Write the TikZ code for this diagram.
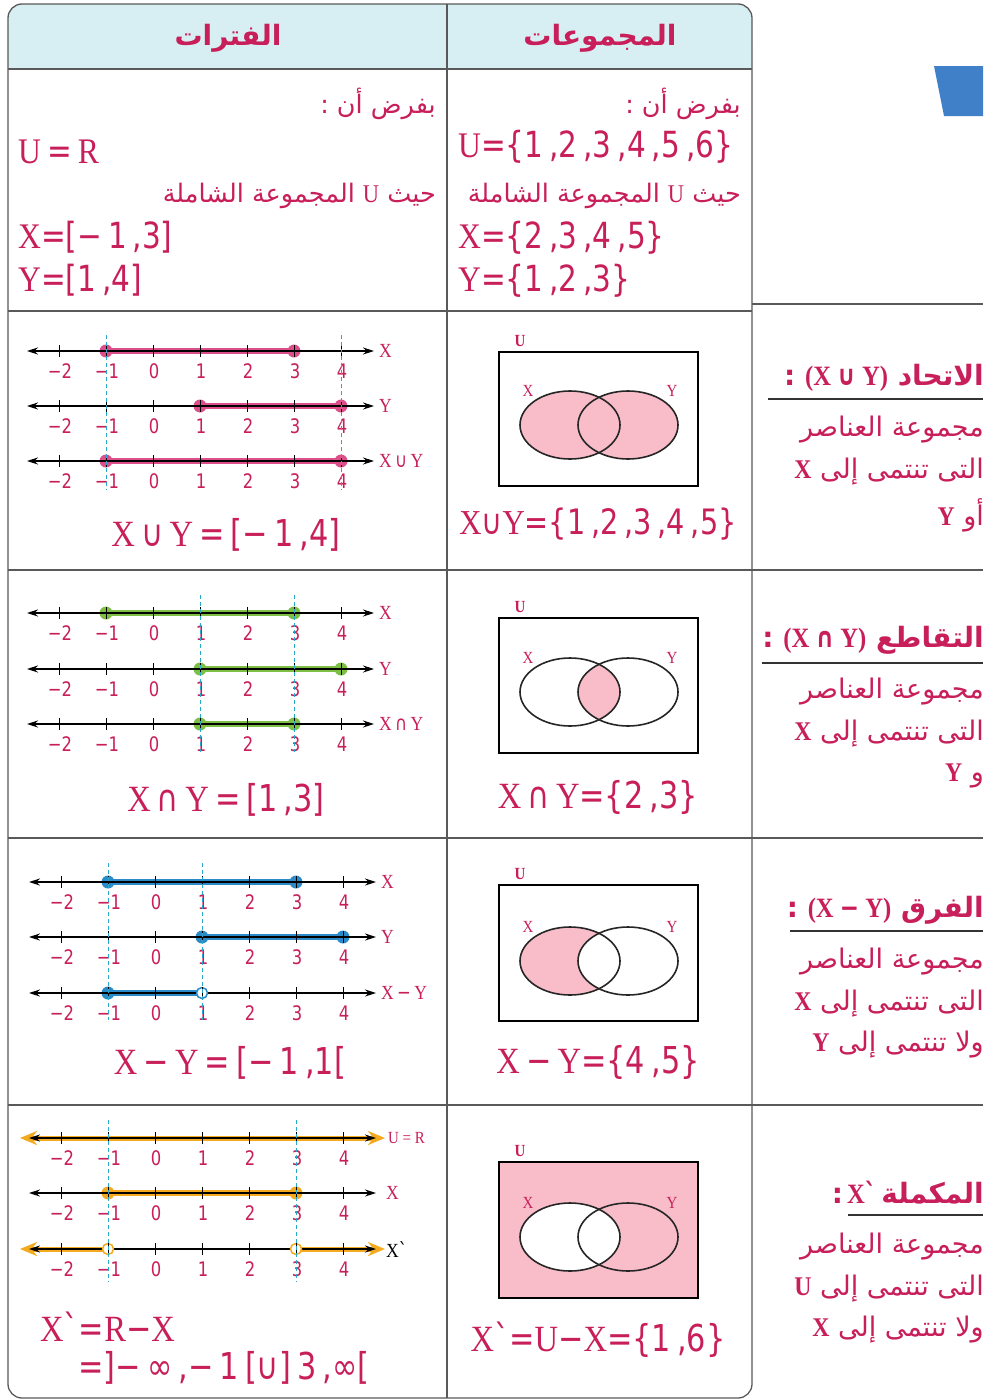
\documentclass[tikz,border=0pt]{standalone}
\usepackage{fontspec}
\usetikzlibrary{arrows.meta}
\TeXXeTstate=1
\newfontfamily\ar[Script=Arabic]{DejaVu Sans}
\newfontfamily\fnum[FakeStretch=0.82]{DejaVu Sans}
\newfontfamily\fser[FakeStretch=0.88]{Liberation Serif}
\newcommand\Lx[1]{{\fser #1}}
\newcommand\Lb[1]{{\fser\bfseries #1}}
\newcommand\gr{{\fnum\char"02CB}}
\definecolor{crim}{HTML}{C81E5A}
\definecolor{headfill}{HTML}{D7EEF3}
\definecolor{pinkhl}{HTML}{DD4F8A}
\definecolor{greenhl}{HTML}{7DBE45}
\definecolor{bluehl}{HTML}{2A8BC8}
\definecolor{orangehl}{HTML}{F3AA1E}
\definecolor{cyandash}{HTML}{2AA8CC}
\definecolor{vennpink}{HTML}{F9BDCA}
\definecolor{tileblue}{HTML}{3F80C8}
\tikzset{
  tbl/.style={draw=black!65, line width=1.3pt},
  axisst/.style={line width=1.2pt, {Stealth[length=11pt,width=7pt]}-{Stealth[length=11pt,width=7pt]}},
  tickst/.style={line width=1pt},
  numst/.style={text=crim, font=\fnum\fontsize{20}{20}\selectfont, inner sep=0pt},
  lblst/.style={text=crim, font=\fser\fontsize{20}{20}\selectfont, inner sep=0pt, anchor=west},
  band/.style={line width=6pt, draw=#1},
  dot/.style={fill=#1},
  ring/.style={draw=#1, fill=white, line width=1.5pt},
  guide/.style={draw=cyandash, line width=0.9pt, dash pattern=on 4pt off 3pt},
  fm/.style={text=crim, font=\fnum\fontsize{37}{37}\selectfont, inner sep=0pt},
  fmbig/.style={text=crim, font=\fnum\fontsize{36}{36}\selectfont, inner sep=0pt, anchor=west},
  artxt/.style={text=crim, font=\ar\fontsize{27}{27}\selectfont, inner sep=0pt, anchor=east},
  arone/.style={text=crim, font=\ar\fontsize{25.5}{25.5}\selectfont, inner sep=0pt, anchor=east},
  arhead/.style={text=crim, font=\ar\bfseries\fontsize{28}{28}\selectfont, inner sep=0pt, anchor=east},
  headtxt/.style={text=crim, font=\ar\bfseries\fontsize{28}{28}\selectfont, inner sep=0pt},
  vbox/.style={draw=black, line width=1.8pt},
  vell/.style={draw=black!85, line width=1.6pt},
  vlbl/.style={text=crim, font=\fser\fontsize{17}{17}\selectfont, inner sep=0pt},
  uline/.style={draw=black!80, line width=1.3pt},
}
\newcommand\drawaxis[3]{% #1 = y, #2 = x of 0, #3 = name prefix
  \draw[axisst] (#2-126,#1) -- (#2+221,#1);
  \foreach \k/\t in {-2/{−2},-1/{−1},0/{0},1/{1},2/{2},3/{3},4/{4}}{
    \draw[tickst] (\k*47+#2,#1-6) -- (\k*47+#2,#1+6);
    \node[numst] (#3\k) at (\k*47+#2+1,#1+20) {\t};
  }}
\newcommand\vennframe[4]{% top, bottom, ellipse cy, name
  \draw[vbox] (499,#1) rectangle (698,#2);
  \draw[vell] (570,#3) ellipse[x radius=50pt,y radius=34pt];
  \draw[vell] (628,#3) ellipse[x radius=50pt,y radius=34pt];
  \node[vlbl, font=\fser\bfseries\fontsize{17}{17}\selectfont] (#4U) at (520,#1-11) {U};
  \node[vlbl] (#4X) at (528,#3-34) {X};
  \node[vlbl] (#4Y) at (672,#3-34) {Y};
}
\begin{document}
\begin{tikzpicture}[x=1pt,y=-1pt]
\useasboundingbox (0,0) rectangle (983,1400);
\fill[white] (0,0) rectangle (983,1400);
% blue tile
\fill[tileblue] (934,66) -- (983,66) -- (983,116) -- (944,116) -- cycle;
% table
\fill[headfill, rounded corners=14pt] (8,4) rectangle (752,69);
\fill[headfill] (8,40) rectangle (752,69);
\draw[tbl, rounded corners=14pt] (8,4) rectangle (752,1398);
\draw[tbl] (8,69) -- (752,69);
\draw[tbl] (447,4) -- (447,1398);
\draw[tbl] (8,311) -- (752,311);
\draw[tbl] (752,304) -- (983,304);
\foreach \yy in {570,838,1105} \draw[tbl] (8,\yy) -- (983,\yy);
% header
\node[headtxt] (hI) at (228,38) {\beginR الفترات\endR};
\node[headtxt] (hS) at (600,38) {\beginR المجموعات\endR};
% row 1
\node[arone] (a1) at (436,104) {\beginR بفرض أن :\endR};
\node[arone] (a2) at (741,104) {\beginR بفرض أن :\endR};
\node[arone] (a3) at (436,196) {\beginR حيث \Lx{U} المجموعة الشاملة\endR};
\node[arone] (a4) at (741,196) {\beginR حيث \Lx{U} المجموعة الشاملة\endR};
\node[fmbig] (f1) at (18,152) {\Lx{U}\,=\,\Lx{R}};
\node[fmbig] (f2) at (18,237) {\Lx{X}=[−\,1\,,3]};
\node[fmbig] (f3) at (18,280) {\Lx{Y}=[1\,,4]};
\node[fmbig] (f4) at (458,147) {\Lx{U}=\{1\,,2\,,3\,,4\,,5\,,6\}};
\node[fmbig] (f5) at (458,238) {\Lx{X}=\{2\,,3\,,4\,,5\}};
\node[fmbig] (f6) at (458,281) {\Lx{Y}=\{1\,,2\,,3\}};
% ---------- row 2 : union
\draw[band=pinkhl] (106,351) -- (294,351);
\draw[band=pinkhl] (200,406) -- (341,406);
\draw[band=pinkhl] (106,461) -- (341,461);
\fill[dot=pinkhl] (106,351) circle[radius=6.5pt] (294,351) circle[radius=6.5pt]
  (200,406) circle[radius=6.5pt] (341,406) circle[radius=6.5pt]
  (106,461) circle[radius=6.5pt] (341,461) circle[radius=6.5pt];
\drawaxis{351}{153}{ua}
\drawaxis{406}{153}{ub}
\drawaxis{461}{153}{uc}
\draw[guide] (106,335) -- (106,490);
\draw[guide] (341,335) -- (341,490);
\node[lblst] (l2a) at (379,351) {X};
\node[lblst] (l2b) at (379,406) {Y};
\node[lblst] (l2c) at (379,461) {X\,{\fnum∪}\,Y};
\node[fm] (F2) at (226,535) {\Lx{X}\,∪\,\Lx{Y}\,=\,[−\,1\,,4]};
\fill[vennpink] (570,425) ellipse[x radius=50pt,y radius=34pt];
\fill[vennpink] (628,425) ellipse[x radius=50pt,y radius=34pt];
\vennframe{352}{486}{425}{v2}
\node[fm, font=\fnum\fontsize{35}{35}\selectfont] (G2) at (598,524) {\Lx{X}∪\Lx{Y}=\{1\,,2\,,3\,,4\,,5\}};
\node[arhead] (r2h) at (984,378) {\beginR الاتحاد \beginL\Lb{(X }{\fnum ∪}\Lb{ Y)}\endL{} :\endR};
\draw[uline] (768,399) -- (983,399);
\node[artxt] (r2a) at (984,430) {\beginR مجموعة العناصر\endR};
\node[artxt] (r2b) at (984,472) {\beginR التى تنتمى إلى \Lb{X}\endR};
\node[artxt] (r2c) at (984,515) {\beginR أو \Lb{Y}\endR};
% ---------- row 3 : intersection
\draw[band=greenhl] (106,613) -- (294,613);
\draw[band=greenhl] (200,669) -- (341,669);
\draw[band=greenhl] (200,724) -- (294,724);
\fill[dot=greenhl] (106,613) circle[radius=6.5pt] (294,613) circle[radius=6.5pt]
  (200,669) circle[radius=6.5pt] (341,669) circle[radius=6.5pt]
  (200,724) circle[radius=6.5pt] (294,724) circle[radius=6.5pt];
\drawaxis{613}{153}{ia}
\drawaxis{669}{153}{ib}
\drawaxis{724}{153}{ic}
\draw[guide] (200,595) -- (200,752);
\draw[guide] (294,595) -- (294,752);
\node[lblst] (l3a) at (379,613) {X};
\node[lblst] (l3b) at (379,669) {Y};
\node[lblst] (l3c) at (379,724) {X\,{\fnum∩}\,Y};
\node[fm] (F3) at (226,800) {\Lx{X}\,∩\,\Lx{Y}\,=\,[1\,,3]};
\begin{scope}
\clip (570,692) ellipse[x radius=50pt,y radius=34pt];
\fill[vennpink] (628,692) ellipse[x radius=50pt,y radius=34pt];
\end{scope}
\vennframe{618}{753}{692}{v3}
\node[fm] (G3) at (598,797) {\Lx{X}\,∩\,\Lx{Y}=\{2\,,3\}};
\node[arhead] (r3h) at (984,640) {\beginR التقاطع \beginL\Lb{(X }{\fnum ∩}\Lb{ Y)}\endL{} :\endR};
\draw[uline] (762,663) -- (983,663);
\node[artxt] (r3a) at (984,692) {\beginR مجموعة العناصر\endR};
\node[artxt] (r3b) at (984,734) {\beginR التى تنتمى إلى \Lb{X}\endR};
\node[artxt] (r3c) at (984,776) {\beginR و \Lb{Y}\endR};
% ---------- row 4 : difference
\draw[band=bluehl] (108,882) -- (296,882);
\draw[band=bluehl] (202,937) -- (343,937);
\draw[band=bluehl] (108,993) -- (202,993);
\fill[dot=bluehl] (108,882) circle[radius=6.5pt] (296,882) circle[radius=6.5pt]
  (202,937) circle[radius=6.5pt] (343,937) circle[radius=6.5pt]
  (108,993) circle[radius=6.5pt];
\drawaxis{882}{155}{da}
\drawaxis{937}{155}{db}
\drawaxis{993}{155}{dc}
\draw[ring=bluehl] (202,993) circle[radius=5.5pt];
\draw[tickst] (202,987) -- (202,999);
\draw[guide] (108,863) -- (108,1020);
\draw[guide] (202,863) -- (202,1020);
\node[lblst] (l4a) at (381,882) {X};
\node[lblst] (l4b) at (381,937) {Y};
\node[lblst] (l4c) at (381,993) {X\,{\fnum−}\,Y};
\node[fm] (F4) at (230,1063) {\Lx{X}\,−\,\Lx{Y}\,=\,[−\,1\,,1[};
\fill[vennpink] (570,961) ellipse[x radius=50pt,y radius=34pt];
\fill[white] (628,961) ellipse[x radius=50pt,y radius=34pt];
\vennframe{885}{1021}{961}{v4}
\node[fm] (G4) at (598,1062) {\Lx{X}\,−\,\Lx{Y}=\{4\,,5\}};
\node[arhead] (r4h) at (984,910) {\beginR الفرق \beginL\Lb{(X }{\fnum −}\Lb{ Y)}\endL{} :\endR};
\draw[uline] (790,931) -- (983,931);
\node[artxt] (r4a) at (984,962) {\beginR مجموعة العناصر\endR};
\node[artxt] (r4b) at (984,1004) {\beginR التى تنتمى إلى \Lb{X}\endR};
\node[artxt] (r4c) at (984,1045) {\beginR ولا تنتمى إلى \Lb{Y}\endR};
% ---------- row 5 : complement
\draw[line width=5pt, orangehl, {Stealth[length=17pt,width=14pt]}-{Stealth[length=17pt,width=14pt]}] (20,1138) -- (385,1138);
\draw[band=orangehl] (108,1193) -- (296,1193);
\fill[dot=orangehl] (108,1193) circle[radius=6.5pt] (296,1193) circle[radius=6.5pt];
\draw[line width=5pt, orangehl, {Stealth[length=17pt,width=14pt]}-] (20,1249) -- (108,1249);
\draw[line width=5pt, orangehl, -{Stealth[length=17pt,width=14pt]}] (296,1249) -- (385,1249);
\drawaxis{1138}{155}{ca}
\drawaxis{1193}{155}{cb}
\drawaxis{1249}{155}{cc}
\draw[ring=orangehl] (108,1249) circle[radius=5.5pt] (296,1249) circle[radius=5.5pt];
\draw[tickst] (108,1243) -- (108,1255) (296,1243) -- (296,1255);
\draw[guide] (108,1120) -- (108,1282);
\draw[guide] (296,1120) -- (296,1282);
\node[lblst, font=\fser\fontsize{17}{17}\selectfont] (l5a) at (388,1138) {U = R};
\node[lblst] (l5b) at (386,1193) {X};
\node[lblst, text=black] (l5c) at (386,1249) {X\gr};
\node[fm, anchor=west] (F5a) at (40,1327) {\Lx{X}\gr=\Lx{R}−\Lx{X}};
\node[fm, anchor=west] (F5b) at (78,1368) {=]−\,∞\,,−\,1\,[∪]\,3\,,∞[};
\fill[vennpink] (499,1162) rectangle (698,1298);
\fill[white] (570,1237) ellipse[x radius=50pt,y radius=34pt];
\vennframe{1162}{1298}{1237}{v5}
\node[fm] (G5) at (598,1340) {\Lx{X}\gr=\Lx{U}−\Lx{X}=\{1\,,6\}};
\node[arhead] (r5h) at (984,1193) {\beginR المكملة\hspace{5pt}\beginL\Lb{X}\gr\endL\hspace{4pt}:\endR};
\draw[uline] (848,1215) -- (983,1215);
\node[artxt] (r5a) at (984,1247) {\beginR مجموعة العناصر\endR};
\node[artxt] (r5b) at (984,1289) {\beginR التى تنتمى إلى \Lb{U}\endR};
\node[artxt] (r5c) at (984,1330) {\beginR ولا تنتمى إلى \Lb{X}\endR};
\end{tikzpicture}
\end{document}
